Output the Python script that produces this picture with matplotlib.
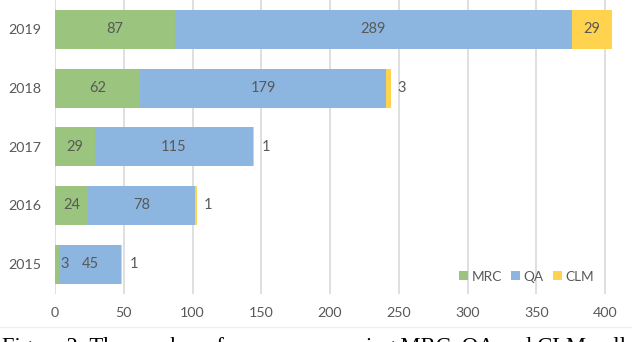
import matplotlib.pyplot as plt

years = ["2015", "2016", "2017", "2018", "2019"]
mrc = [3, 24, 29, 62, 87]
qa = [45, 78, 115, 179, 289]
clm = [1, 1, 1, 3, 29]

green = "#9BC47E"
blue = "#8CB6E0"
yellow = "#FFD34D"
txt = "#595959"

plt.rcParams['font.family'] = ['Lato', 'DejaVu Sans']

fig = plt.figure(figsize=(6.4, 3.42), dpi=100)
ax = fig.add_axes([55 / 640, 48.5 / 342, 557 / 640, 293.5 / 342])

y = list(range(len(years)))
h = 0.665
left_qa = mrc
left_clm = [a + b for a, b in zip(mrc, qa)]
ax.barh(y, mrc, height=h, color=green, label="MRC", zorder=2)
ax.barh(y, qa, left=left_qa, height=h, color=blue, label="QA", zorder=2)
ax.barh(y, clm, left=left_clm, height=h, color=yellow, label="CLM", zorder=2)

fs = 10.5
for i in y:
    # small MRC value is pushed just right of its segment
    if mrc[i] < 10:
        ax.annotate(str(mrc[i]), (mrc[i], i), xytext=(1, 0), textcoords="offset points",
                    ha="left", va="center", color=txt, fontsize=fs)
    else:
        ax.text(mrc[i] / 2, i, str(mrc[i]), ha="center", va="center", color=txt, fontsize=fs)
    ax.text(left_qa[i] + qa[i] / 2, i, str(qa[i]), ha="center", va="center", color=txt, fontsize=fs)
    if clm[i] < 10:
        ax.annotate(str(clm[i]), (left_clm[i] + clm[i], i), xytext=(5, 0), textcoords="offset points",
                    ha="left", va="center", color=txt, fontsize=fs)
    else:
        ax.text(left_clm[i] + clm[i] / 2, i, str(clm[i]), ha="center", va="center", color=txt, fontsize=fs)

ax.set_yticks(y)
ax.set_yticklabels(years)
ax.set_xticks(range(0, 401, 50))
ax.set_xlim(0, 405)
ax.set_ylim(-0.5, 4.5)
ax.grid(axis="x", color="#d9d9d9", linewidth=1.2, zorder=0)
for s in ax.spines.values():
    s.set_visible(False)
ax.tick_params(length=0, colors=txt, labelsize=10.3)
ax.tick_params(axis="y", pad=10)
ax.tick_params(axis="x", pad=10)

leg = ax.legend(loc="lower right", bbox_to_anchor=(0.99, -0.005), ncol=3, frameon=False,
                handlelength=0.65, handleheight=0.65, handletextpad=0.25, columnspacing=0.7,
                fontsize=9.8, labelcolor=txt)

fig.add_artist(plt.Line2D([0, 631 / 640], [1 - 327 / 342] * 2, color="#f0f0f0", linewidth=1))
fig.text(0.003, -0.032, "Figure 2: The number of papers concerning MRC, QA and CLM collected",
         family="Liberation Serif", fontsize=16.3, color="black", ha="left", va="baseline")

fig.savefig("out.png", dpi=100)
